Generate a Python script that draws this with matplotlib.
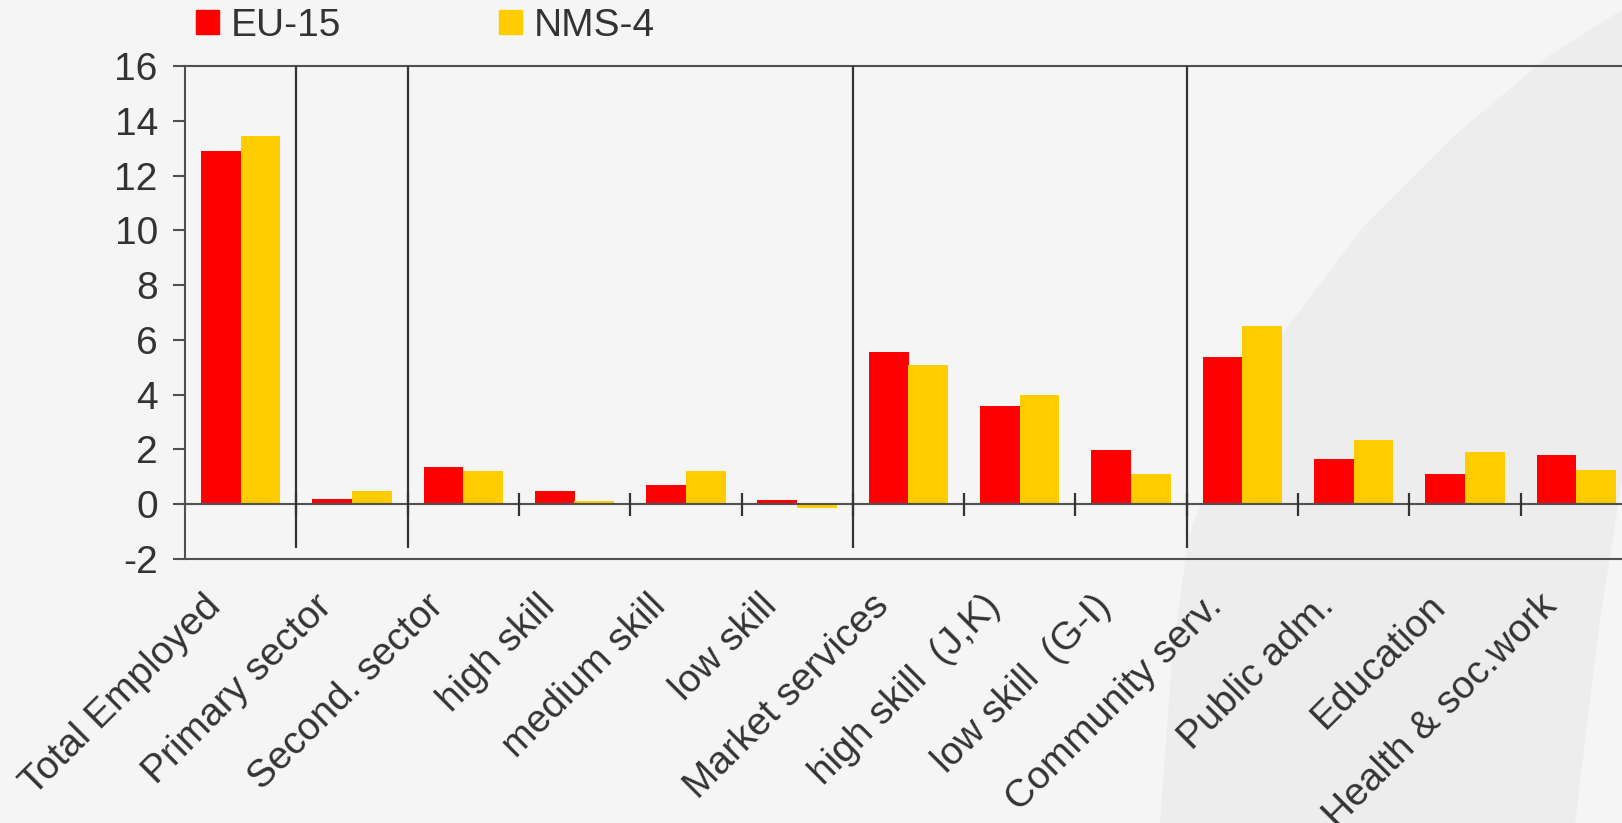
import matplotlib
matplotlib.use('Agg')
import matplotlib.pyplot as plt
from matplotlib.patches import Polygon, Patch
from matplotlib.transforms import ScaledTranslation

categories = ['Total Employed', 'Primary sector', 'Second. sector', 'high skill',
              'medium skill', 'low skill', 'Market services', 'high skill  (J,K)',
              'low skill  (G-I)', 'Community serv.', 'Public adm.', 'Education',
              'Health & soc.work']
eu15 = [12.9, 0.2, 1.35, 0.5, 0.7, 0.15, 5.55, 3.6, 1.97, 5.38, 1.65, 1.1, 1.8]
nms4 = [13.45, 0.5, 1.2, 0.12, 1.2, -0.12, 5.1, 4.0, 1.1, 6.5, 2.35, 1.9, 1.25]
separators = [0.5, 1.5, 5.5, 8.5]

plt.rcParams['font.family'] = ['Liberation Sans', 'DejaVu Sans']
plt.rcParams['axes.unicode_minus'] = False
txt = '#333333'
W, H = 1622, 823
fig = plt.figure(figsize=(W / 100, H / 100), dpi=100, facecolor='#f5f5f5')

# faint curved band in the background
band = [(1160, 823), (1172, 660), (1188, 540), (1225, 430), (1285, 330),
        (1365, 225), (1455, 135), (1550, 55), (1622, 10), (1622, 480),
        (1600, 620), (1575, 823)]
fig.patches.append(Polygon([(x / W, 1 - y / H) for x, y in band], closed=True,
                           transform=fig.transFigure, facecolor='#ededed',
                           edgecolor='none', zorder=-5))

ax = fig.add_axes([185 / W, 1 - 559 / H, 1 - 185 / W, (559 - 66) / H])
ax.set_zorder(2)
ax.patch.set_alpha(0)

x = list(range(len(categories)))
bw = 0.357
ax.bar([i - 0.178 for i in x], eu15, width=bw, color='#ff0000', zorder=3)
ax.bar([i + 0.178 for i in x], nms4, width=bw, color='#ffcc00', zorder=3)

ax.set_xlim(-0.5, -0.5 + (W - 185) / 111.3)
ax.set_ylim(-2, 16)
ax.set_yticks(range(-2, 17, 2))

ax.axhline(0, color='#505050', lw=1.5, zorder=4)
ax.vlines(separators, -1.6, 16, color='#333333', lw=1.6, zorder=4)
ax.vlines([b + 0.5 for b in x[:-1]], -0.42, 0.42, color='#333333', lw=1.6, zorder=4)

for s in ['top', 'bottom', 'left']:
    ax.spines[s].set_color('#505050')
    ax.spines[s].set_linewidth(1.5)
ax.spines['right'].set_visible(False)

ax.tick_params(axis='y', direction='out', length=8.6, width=1.5, color='#505050',
               labelsize=28, labelcolor=txt, pad=11)
ax.set_xticks(x)
ax.set_xticklabels(categories, rotation=45, ha='right', va='top',
                   rotation_mode='anchor', fontsize=28, color=txt)
ax.tick_params(axis='x', length=0, pad=0)
for lab in ax.get_xticklabels():
    lab.set_transform(lab.get_transform() +
                      ScaledTranslation(-0.38, -0.29, fig.dpi_scale_trans))

handles = [Patch(color='#ff0000'), Patch(color='#ffcc00')]
fig.legend(handles, ['EU-15', 'NMS-4'], ncol=2, loc='upper left',
           bbox_to_anchor=(196 / W, 1 - 8 / H), frameon=False, fontsize=28,
           labelcolor=txt, handlelength=0.6, handleheight=0.58,
           handletextpad=0.3, columnspacing=4.05, borderpad=0, borderaxespad=0)

fig.savefig('out.png', dpi=100, facecolor=fig.get_facecolor())
